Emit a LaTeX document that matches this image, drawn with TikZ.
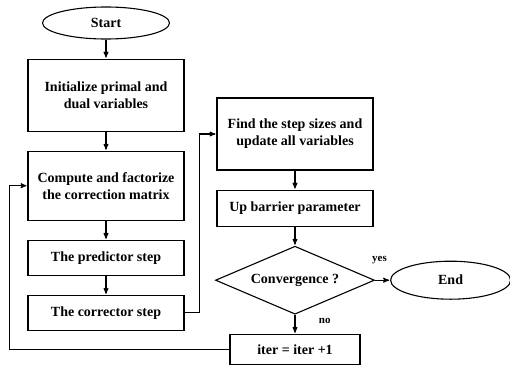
\documentclass[tikz,border=0pt]{standalone}
\usepackage{fontspec}
\setmainfont{Liberation Serif}
\usetikzlibrary{arrows, positioning, shapes.geometric}

\begin{document}
\begin{tikzpicture}[>=stealth',shorten >=1pt,auto,node distance=19pt,
  every node/.style={font=\fontsize{14}{17}\selectfont\bfseries},
  box/.style={draw, line width=1.1pt, minimum width=156pt, align=center},
  oval/.style={draw, line width=1.1pt, ellipse, inner sep=1pt},
  test/.style={draw, line width=1.1pt, diamond, aspect=2.3, inner sep=0pt,
               minimum width=159pt, minimum height=68pt},
  answer/.style={font=\fontsize{11}{13}\selectfont\bfseries}]

\useasboundingbox (0,0) rectangle (510pt,-369pt);

% define the blocks of the chart
  \node[oval, minimum width=127pt, minimum height=32pt] (start) at (106pt,-23pt)
{Start};
  \node[box, minimum height=72pt]  (init)  [below=of start]
{Initialize primal and\\dual variables};
  \node[box, minimum height=69pt]  (comp)  [below=of init]
{Compute and factorize\\the correction matrix};
  \node[box, minimum height=35pt]  (pred)  [below=of comp]
{The predictor step};
  \node[box, minimum height=35pt]  (corr)  [below=of pred]
{The corrector step};

  \node[box, minimum height=72pt]  (find)  at (295pt,-134pt)
{Find the step sizes and\\update all variables};
  \node[box, minimum height=36pt]  (barr)  [below=of find]
{Up barrier parameter};
  \node[test]  (conv)  [below=of barr]
{Convergence ?};
  \node[box, minimum width=130pt, minimum height=30pt]  (iter)  [below=of conv]
{iter = iter +1};
  \node[oval, minimum width=120pt, minimum height=38pt]  (stop)  [right=15pt of conv]
{End};

% define the links
  \path[->, line width=1.1pt] (start) edge (init)
        (init) edge (comp)
        (comp) edge (pred)
        (pred) edge (corr)
        (find) edge (barr)
        (barr) edge (conv)
        (conv) edge  node[answer, right=20pt, yshift=3pt] {no}  (iter)
               edge  node[answer, above=12pt, xshift=-3pt] {yes}  (stop);

  \draw[->, line width=1.1pt] (corr.east) -- ++(15pt,0) |- (find.west);
  \draw[->, line width=1.1pt] (iter.west) -- ++(-220pt,0) |- (comp.west);

\end{tikzpicture}
\end{document}
